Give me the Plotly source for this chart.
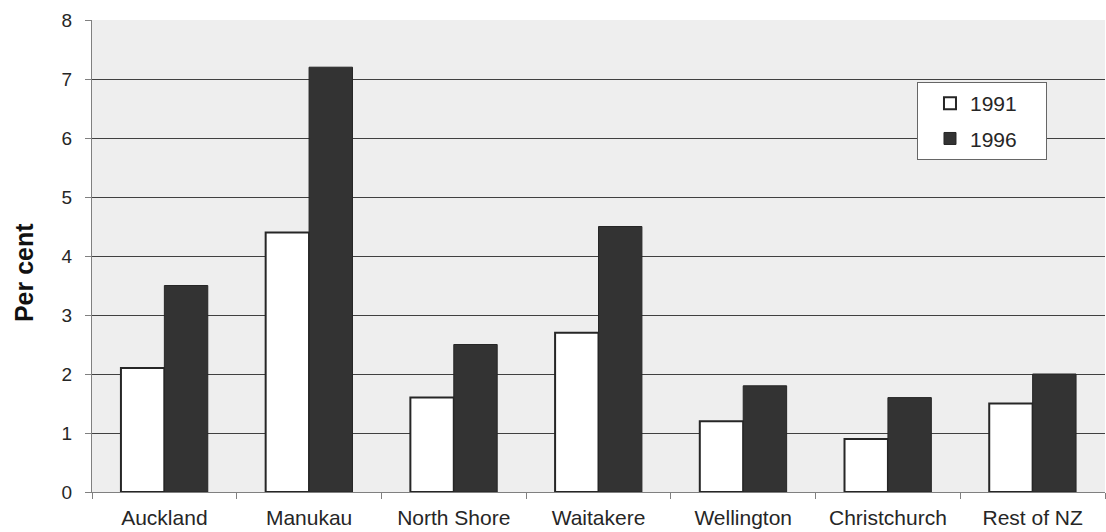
import plotly.graph_objects as go

categories = ["Auckland", "Manukau", "North Shore", "Waitakere", "Wellington", "Christchurch", "Rest of NZ"]
values_1991 = [2.1, 4.4, 1.6, 2.7, 1.2, 0.9, 1.5]
values_1996 = [3.5, 7.2, 2.5, 4.5, 1.8, 1.6, 2.0]
y_ticks = [0, 1, 2, 3, 4, 5, 6, 7, 8]
series_names = ["1991", "1996"]

FONT = "Liberation Sans, Arial, sans-serif"
TXT = "#262626"
PAD = "\u00a0" * 4

fig = go.Figure()
fig.add_trace(go.Bar(
    x=categories, y=values_1991, name=series_names[0] + PAD, legendgroup="a",
    marker=dict(color="#ffffff", line=dict(color="#262626", width=2)),
))
fig.add_trace(go.Bar(
    x=categories, y=values_1996, name=series_names[1] + PAD, legendgroup="b",
    marker=dict(color="#333333", line=dict(color="#262626", width=1)),
))

fig.update_layout(
    width=1106, height=532,
    margin=dict(l=92, r=1, t=20, b=40),
    paper_bgcolor="#ffffff",
    plot_bgcolor="#eeeeee",
    barmode="group",
    bargap=0.4,
    bargroupgap=0,
    font=dict(family=FONT, color=TXT),
    showlegend=True,
    legend=dict(
        x=0.8144, y=0.8686, xanchor="left", yanchor="top",
        bgcolor="#ffffff", bordercolor="#666666", borderwidth=1,
        font=dict(family=FONT, size=21, color=TXT),
        tracegroupgap=5, indentation=12,
    ),
    annotations=[dict(
        text="<b>Per cent</b>", xref="paper", yref="paper",
        x=-0.067, y=0.464, xanchor="center", yanchor="middle",
        showarrow=False, textangle=-90,
        font=dict(family=FONT, size=25, color="#111111"),
    )],
)
fig.update_xaxes(
    type="category", tickson="boundaries", automargin=False,
    ticks="outside", ticklen=6, tickcolor="#808080",
    showline=True, linecolor="#808080", linewidth=1,
    showgrid=False,
    tickfont=dict(family=FONT, size=21, color=TXT),
    ticklabelstandoff=7,
)
fig.update_yaxes(
    range=[0, 8], tickvals=y_ticks, automargin=False,
    ticks="outside", ticklen=6, tickcolor="#808080",
    showline=True, linecolor="#808080", linewidth=1,
    showgrid=True, gridcolor="#404040", gridwidth=1,
    zeroline=False,
    tickfont=dict(family=FONT, size=19, color=TXT),
    ticklabelstandoff=9,
)

fig.write_html("out.html")
